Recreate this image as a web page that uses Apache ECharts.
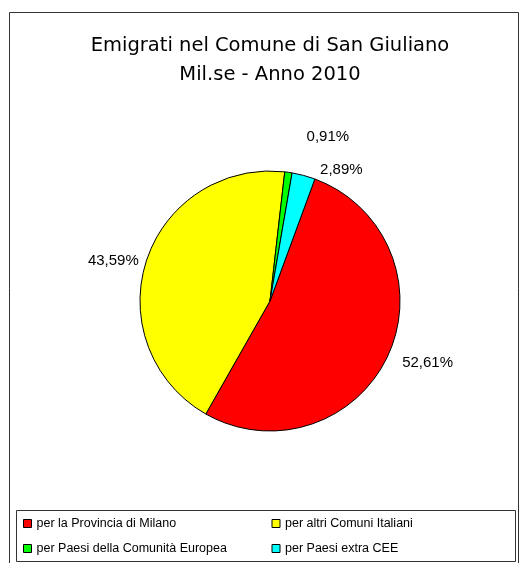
<!DOCTYPE html>
<html><head><meta charset="utf-8">
<script src="https://cdn.jsdelivr.net/npm/echarts@6/dist/echarts.min.js"></script>
<style>html,body{margin:0;padding:0;background:#fff}#c{width:520px;height:563px}</style>
</head><body><div id="c"></div>
<script>
const categories = ['per la Provincia di Milano', 'per altri Comuni Italiani', 'per Paesi della Comunità Europea', 'per Paesi extra CEE'];
const values = [52.61, 43.59, 0.91, 2.89];
const labels = ['52,61%', '43,59%', '0,91%', '2,89%'];
const colors = ['#ff0000', '#ffff00', '#00ff00', '#00ffff'];
const labelShift = [[2, 4], [5, 3], [12, -28], [-20, -12]];

const chart = echarts.init(document.getElementById('c'));
chart.setOption({
  animation: false,
  title: {
    text: 'Emigrati nel Comune di San Giuliano\nMil.se - Anno 2010',
    left: 265, top: 26, textAlign: 'center',
    textStyle: { fontFamily: 'DejaVu Sans', fontSize: 19.5, fontWeight: 'normal', color: '#000', lineHeight: 29 }
  },
  graphic: [
    { type: 'rect', shape: { x: 9.5, y: 12.5, width: 509, height: 560 }, style: { fill: 'none', stroke: '#333', lineWidth: 1 }, silent: true },
    { type: 'rect', shape: { x: 16.5, y: 510.5, width: 499, height: 51 }, style: { fill: '#fff', stroke: '#333', lineWidth: 1 }, silent: true }
  ],
  legend: {
    data: categories,
    left: 23, top: 514, width: 495,
    orient: 'horizontal',
    itemWidth: 8, itemHeight: 8, itemGap: 6,
    icon: 'rect',
    padding: 0,
    formatter: n => '{t|' + n + '}',
    textStyle: {
      rich: { t: { fontFamily: 'Liberation Sans', fontSize: 12.5, color: '#000', width: 229, height: 19, lineHeight: 19 } }
    },
    itemStyle: { borderColor: '#000', borderWidth: 1 }
  },
  series: [{
    type: 'pie',
    center: [270, 301],
    radius: 130,
    startAngle: 69.8,
    clockwise: true,
    data: categories.map((n, i) => ({ name: n, value: values[i], itemStyle: { color: colors[i] } })),
    itemStyle: { borderColor: '#000', borderWidth: 1 },
    label: {
      show: true, position: 'outside',
      formatter: p => labels[p.dataIndex],
      fontFamily: 'Liberation Sans', fontSize: 15, color: '#000'
    },
    labelLine: { show: false, length: 8, length2: 0 },
    labelLayout: p => ({ dx: labelShift[p.dataIndex][0], dy: labelShift[p.dataIndex][1] }),
    emphasis: { disabled: true }
  }]
});
</script></body></html>
